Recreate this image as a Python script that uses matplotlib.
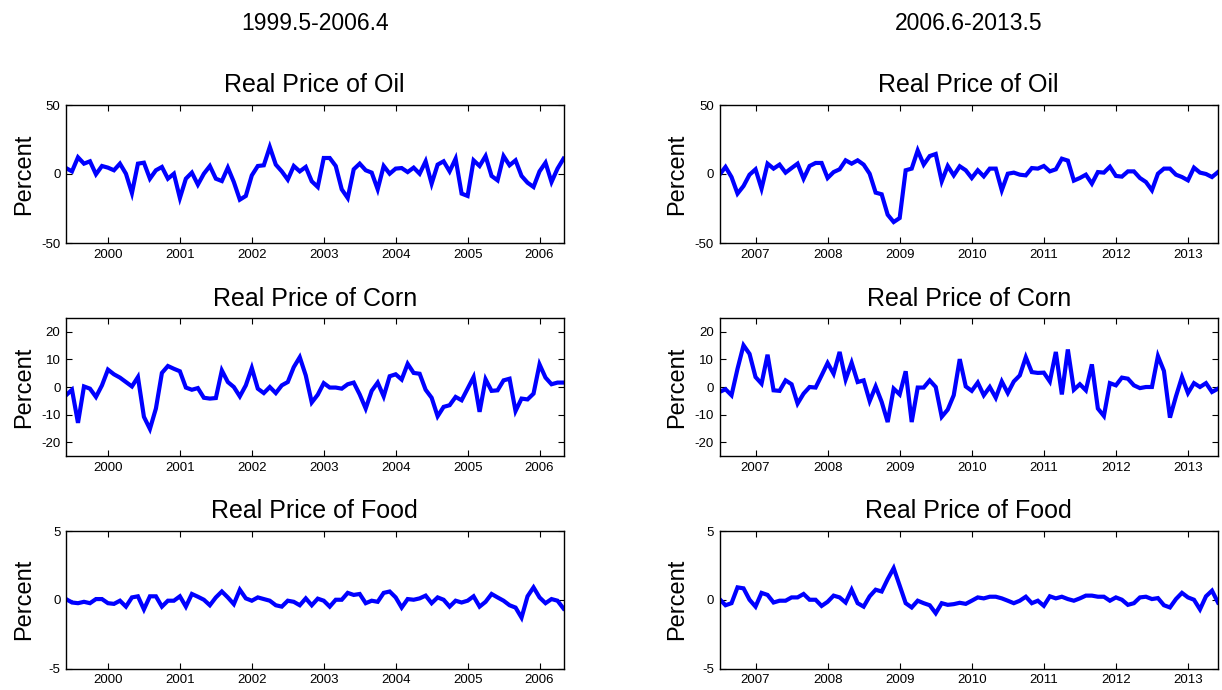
import numpy as np
import matplotlib
matplotlib.use("Agg")
import matplotlib.pyplot as plt

# ---------------- data (monthly, % changes) ----------------
# Sample 1: 1999.5 - 2006.4  (84 months); Sample 2: 2006.6 - 2013.5 (84 months)
start1_year, start1_month = 1999, 5
start2_year, start2_month = 2006, 6

oil_1 = [4.3, 1.9, 12.1, 7.5, 9.2, -0.2, 5.8, 4.6, 2.7, 7.5, 0.2, -13.8, 7.5, 8.2,
         -3.4, 2.7, 5.1, -3.4, 0.2, -17.4, -3.4, 1.0, -7.7, 0.2, 5.8, -3.4, -5.1, 4.6,
         -5.8, -18.6, -15.9, -1.0, 5.8, 6.3, 19.6, 6.8, 1.9, -4.1, 5.8, 1.9, 5.1, -5.3,
         -9.4, 11.6, 11.6, 5.8, -11.1, -17.4, 3.4, 7.5, 2.7, 1.0, -11.1, 5.8, 0.2, 3.9,
         4.3, 1.4, 4.6, 0.2, 9.2, -7.0, 6.8, 9.2, 1.9, 11.1, -14.2, -15.9, 9.9, 5.8,
         13.0, -1.4, -4.6, 13.0, 6.3, 9.9, -1.4, -6.3, -9.4, 1.9, 8.2, -5.8, 3.9, 11.1]
oil_2 = [-0.5, 5.1, -2.2, -14.2, -8.7, -0.5, 3.4, -10.6, 7.5, 3.9, 6.8, 1.0, 4.3, 7.5,
         -3.4, 5.8, 8.0, 8.0, -2.9, 1.4, 3.4, 9.9, 7.5, 9.9, 6.8, 0.2, -13.5, -14.7,
         -29.5, -34.8, -31.9, 2.7, 3.9, 17.1, 6.8, 13.0, 14.5, -5.3, 5.8, -1.0, 5.6, 2.7,
         -2.9, 2.7, -1.7, 3.9, 3.9, -11.8, 0.2, 1.0, -0.5, -1.0, 4.3, 3.9, 5.8, 1.9,
         3.4, 11.1, 9.7, -4.8, -2.9, -0.5, -7.0, 1.4, 1.0, 5.3, -1.4, -1.9, 1.9, 1.9,
         -2.9, -5.8, -11.8, 0.2, 3.9, 3.9, -0.5, -2.2, -4.6, 4.6, 1.0, 0.0, -2.2, 1.4]

corn_1 = [-3.0, -1.0, -13.0, 0.2, -0.6, -3.6, 0.6, 6.3, 4.6, 3.4, 1.8, 0.2, 3.6, -10.8,
          -15.2, -7.8, 5.1, 7.6, 6.6, 5.7, -0.2, -1.0, -0.4, -3.9, -4.2, -4.0, 6.0, 1.8,
          0.0, -3.4, 0.6, 6.9, -0.6, -2.2, 0.0, -2.2, 0.6, 1.8, 7.2, 10.8, 4.2, -5.6,
          -2.8, 1.4, -0.2, -0.2, -0.6, 1.0, 1.6, -2.7, -7.8, -1.4, 1.6, -3.4, 3.9, 4.6,
          2.7, 8.4, 5.1, 4.8, -1.0, -3.9, -10.6, -7.2, -6.6, -3.6, -4.8, -0.6, 3.6, -9.0,
          2.8, -1.4, -1.2, 2.4, 3.0, -8.7, -4.2, -4.5, -2.4, 8.2, 3.4, 1.0, 1.6, 1.6]
corn_2 = [-1.8, -0.8, -3.0, 6.6, 15.1, 12.0, 3.6, 1.2, 11.7, -1.2, -1.4, 2.4, 1.0, -6.0,
          -2.4, 0.0, -0.2, 4.2, 8.7, 4.8, 12.7, 2.7, 8.8, 1.8, 2.4, -5.1, 0.2, -5.4,
          -12.7, -0.6, -2.7, 5.7, -12.7, -0.2, -0.2, 2.4, 0.0, -10.8, -8.2, -3.0, 10.1, 0.2,
          -1.4, 1.6, -3.0, 0.0, -3.9, 2.0, -2.2, 2.0, 4.2, 10.8, 5.4, 5.1, 5.2, 2.0,
          12.7, -2.7, 13.6, -1.0, 1.0, -1.2, 8.2, -7.8, -10.5, 1.4, 0.6, 3.4, 3.0, 0.6,
          -0.4, 0.0, 0.0, 11.2, 5.8, -11.1, -3.4, 3.6, -2.2, 1.4, 0.0, 1.4, -1.8, -0.6]

food_1 = [0.05, -0.2, -0.25, -0.15, -0.25, 0.05, 0.05, -0.25, -0.3, -0.07, -0.5, 0.17,
          0.25, -0.7, 0.25, 0.25, -0.5, -0.07, -0.07, 0.25, -0.5, 0.42, 0.22, 0.0, -0.4,
          0.17, 0.6, 0.17, -0.32, 0.73, 0.1, -0.07, 0.17, 0.05, -0.07, -0.4, -0.5, -0.07,
          -0.15, -0.4, 0.1, -0.4, 0.08, -0.07, -0.5, 0.0, 0.0, 0.5, 0.35, 0.42, -0.25,
          -0.07, -0.15, 0.5, 0.6, 0.17, -0.57, 0.05, 0.0, 0.1, 0.3, -0.25, 0.17, 0.0,
          -0.5, -0.07, -0.2, -0.07, 0.25, -0.5, -0.15, 0.42, 0.17, -0.07, -0.4, -0.57,
          -1.3, 0.25, 0.9, 0.17, -0.25, 0.05, -0.07, -0.64]
food_2 = [0.05, -0.4, -0.25, 0.9, 0.83, 0.0, -0.5, 0.5, 0.35, -0.2, -0.07, -0.07, 0.17,
          0.17, 0.42, 0.0, 0.0, -0.45, -0.15, 0.3, 0.17, -0.2, 0.73, -0.25, -0.5, 0.25,
          0.73, 0.6, 1.5, 2.3, 1.03, -0.25, -0.56, -0.07, -0.25, -0.4, -0.98, -0.25,
          -0.37, -0.32, -0.22, -0.3, -0.07, 0.17, 0.1, 0.22, 0.22, 0.1, -0.07, -0.25,
          -0.07, 0.22, -0.25, -0.07, -0.44, 0.25, 0.1, 0.22, 0.05, -0.07, 0.1, 0.3, 0.3,
          0.22, 0.22, -0.07, 0.17, 0.0, -0.37, -0.25, 0.17, 0.22, 0.05, 0.12, -0.4, -0.56,
          0.05, 0.5, 0.17, 0.0, -0.7, 0.25, 0.66, -0.2]

col_titles = ["1999.5-2006.4", "2006.6-2013.5"]
row_titles = ["Real Price of Oil", "Real Price of Corn", "Real Price of Food"]
ylims = [(-50, 50), (-25, 25), (-5, 5)]
yticks = [[-50, 0, 50], [-20, -10, 0, 10, 20], [-5, 0, 5]]
xticks_1 = [2000, 2001, 2002, 2003, 2004, 2005, 2006]
xticks_2 = [2007, 2008, 2009, 2010, 2011, 2012, 2013]


def time_axis(y0, m0, n):
    return np.array([y0 + (m0 + k) / 12.0 for k in range(n)])


t1 = time_axis(start1_year, start1_month, len(oil_1))
t2 = time_axis(start2_year, start2_month, len(oil_2))

plt.rcParams['font.family'] = ['Liberation Sans', 'DejaVu Sans']
plt.rcParams['axes.unicode_minus'] = False

fig = plt.figure(figsize=(12.22, 6.9), dpi=100)
W, H = 1222.0, 690.0
col_x = [(66, 563.5), (719.5, 1218)]
row_y = [(105, 243), (318, 456), (531, 668.5)]

series = [[oil_1, oil_2], [corn_1, corn_2], [food_1, food_2]]
times = [t1, t2]
xtks = [xticks_1, xticks_2]

for r in range(3):
    for c in range(2):
        x0, x1 = col_x[c]
        y0, y1 = row_y[r]
        ax = fig.add_axes([x0 / W, 1 - y1 / H, (x1 - x0) / W, (y1 - y0) / H])
        t = times[c]
        ax.plot(t, series[r][c], color=(0, 0, 1), lw=3.0, solid_joinstyle='miter')
        ax.set_xlim(t[0], t[-1])
        ax.set_ylim(*ylims[r])
        ax.set_yticks(yticks[r])
        ax.set_yticklabels([str(v) for v in yticks[r]])
        ax.set_xticks(xtks[c])
        ax.set_xticklabels([str(v) for v in xtks[c]])
        ax.tick_params(direction='in', top=True, right=True, length=4, width=0.8,
                       labelsize=9.5, pad=4)
        for s in ax.spines.values():
            s.set_linewidth(1.0)
        ax.set_title(row_titles[r], fontsize=18, pad=9)
        ax.set_ylabel("Percent", fontsize=17)
        ax.yaxis.set_label_coords(-0.062, 0.5)

for c in range(2):
    x0, x1 = col_x[c]
    fig.text((x0 + x1) / 2 / W, 1 - 23 / H, col_titles[c], fontsize=16.5,
             ha='center', va='center')

fig.savefig("out.png", dpi=100)
